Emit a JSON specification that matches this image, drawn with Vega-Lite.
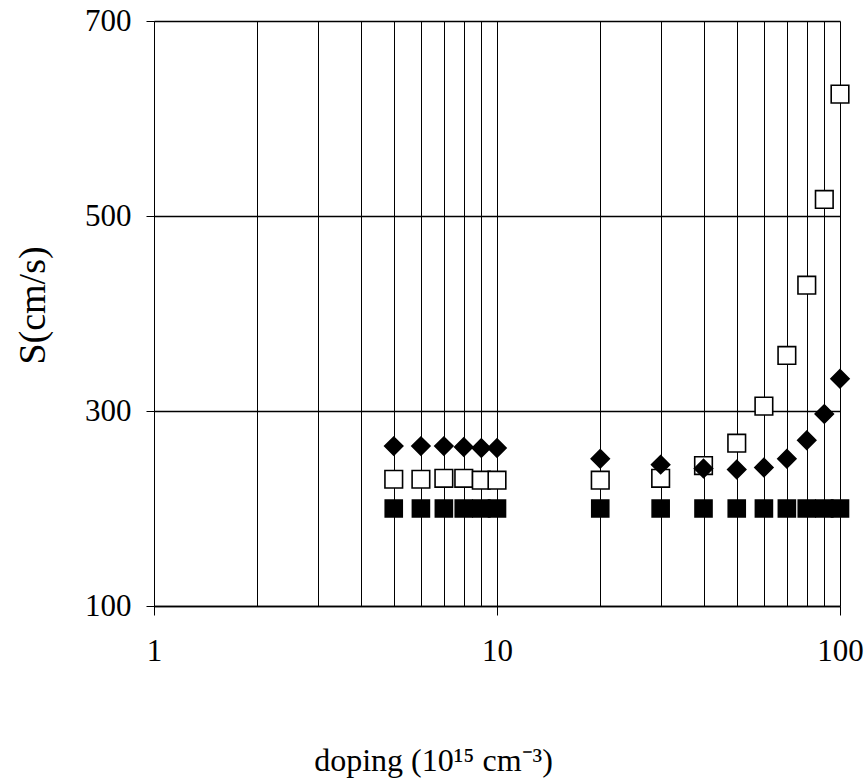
{
  "$schema": "https://vega.github.io/schema/vega-lite/v6.json",
  "autosize": "none",
  "width": 686,
  "height": 585,
  "padding": {"left": 154, "top": 21, "right": 27, "bottom": 178},
  "background": "white",
  "config": {"view": {"stroke": null}, "font": "Liberation Serif"},
  "data": {"values": [
    {"doping": 5, "series": "A", "S": 264},
    {"doping": 6, "series": "A", "S": 264},
    {"doping": 7, "series": "A", "S": 264},
    {"doping": 8, "series": "A", "S": 263},
    {"doping": 9, "series": "A", "S": 262},
    {"doping": 10, "series": "A", "S": 262},
    {"doping": 20, "series": "A", "S": 251},
    {"doping": 30, "series": "A", "S": 245},
    {"doping": 40, "series": "A", "S": 241},
    {"doping": 50, "series": "A", "S": 240},
    {"doping": 60, "series": "A", "S": 242},
    {"doping": 70, "series": "A", "S": 251},
    {"doping": 80, "series": "A", "S": 270},
    {"doping": 90, "series": "A", "S": 297},
    {"doping": 100, "series": "A", "S": 333},
    {"doping": 5, "series": "B", "S": 230},
    {"doping": 6, "series": "B", "S": 230},
    {"doping": 7, "series": "B", "S": 231},
    {"doping": 8, "series": "B", "S": 231},
    {"doping": 9, "series": "B", "S": 229},
    {"doping": 10, "series": "B", "S": 229},
    {"doping": 20, "series": "B", "S": 229},
    {"doping": 30, "series": "B", "S": 231},
    {"doping": 40, "series": "B", "S": 244},
    {"doping": 50, "series": "B", "S": 267},
    {"doping": 60, "series": "B", "S": 305},
    {"doping": 70, "series": "B", "S": 357},
    {"doping": 80, "series": "B", "S": 429},
    {"doping": 90, "series": "B", "S": 517},
    {"doping": 100, "series": "B", "S": 625},
    {"doping": 5, "series": "C", "S": 200},
    {"doping": 6, "series": "C", "S": 200},
    {"doping": 7, "series": "C", "S": 200},
    {"doping": 8, "series": "C", "S": 200},
    {"doping": 9, "series": "C", "S": 200},
    {"doping": 10, "series": "C", "S": 200},
    {"doping": 20, "series": "C", "S": 200},
    {"doping": 30, "series": "C", "S": 200},
    {"doping": 40, "series": "C", "S": 200},
    {"doping": 50, "series": "C", "S": 200},
    {"doping": 60, "series": "C", "S": 200},
    {"doping": 70, "series": "C", "S": 200},
    {"doping": 80, "series": "C", "S": 200},
    {"doping": 90, "series": "C", "S": 200},
    {"doping": 100, "series": "C", "S": 200}
  ]},
  "mark": {"type": "point", "filled": false, "opacity": 1, "strokeWidth": 1.6, "stroke": "black", "clip": false},
  "encoding": {
    "x": {
      "field": "doping", "type": "quantitative",
      "scale": {"type": "log", "domain": [1, 100], "nice": false},
      "axis": {
        "values": [1, 2, 3, 4, 5, 6, 7, 8, 9, 10, 20, 30, 40, 50, 60, 70, 80, 90, 100],
        "labelExpr": "(datum.value == 1 || datum.value == 10 || datum.value == 100) ? datum.label : ''",
        "grid": true, "gridColor": "black", "gridOpacity": 1, "gridWidth": 1,
        "domain": true, "domainColor": "black", "domainWidth": 1.3,
        "tickColor": "black", "tickSize": 9,
        "tickOpacity": {"condition": {"test": "datum.value == 1 || datum.value == 10 || datum.value == 100", "value": 1}, "value": 0},
        "labelFont": "Liberation Serif", "labelFontSize": 31, "labelColor": "black",
        "labelPadding": 21, "labelFlush": false, "labelOverlap": false,
        "title": "doping (10¹⁵ cm⁻³)",
        "titleFont": "Liberation Serif", "titleFontSize": 32, "titleFontWeight": "normal", "titleColor": "black",
        "titleX": 279, "titleY": 164, "titleAlign": "center", "titleBaseline": "alphabetic"
      }
    },
    "y": {
      "field": "S", "type": "quantitative",
      "scale": {"domain": [100, 700], "nice": false, "zero": false},
      "axis": {
        "values": [100, 300, 500, 700],
        "grid": true, "gridColor": "black", "gridOpacity": 1, "gridWidth": 1.3,
        "domain": true, "domainColor": "black", "domainWidth": 1,
        "tickColor": "black", "tickSize": 8,
        "labelFont": "Liberation Serif", "labelFontSize": 31, "labelColor": "black",
        "labelPadding": 15,
        "title": "S(cm/s)",
        "titleFont": "Liberation Serif", "titleFontSize": 38, "titleFontWeight": "normal", "titleColor": "black",
        "titleAngle": -90, "titleX": -121, "titleY": 284, "titleAlign": "center", "titleBaseline": "middle"
      }
    },
    "shape": {"field": "series", "type": "nominal", "scale": {"domain": ["A", "B", "C"], "range": ["diamond", "square", "square"]}, "legend": null},
    "fill": {"field": "series", "type": "nominal", "scale": {"domain": ["A", "B", "C"], "range": ["black", "white", "black"]}, "legend": null},
    "size": {"field": "series", "type": "nominal", "scale": {"domain": ["A", "B", "C"], "range": [330, 290, 310]}, "legend": null},
    "order": {"field": "series", "sort": "descending"}
  }
}
